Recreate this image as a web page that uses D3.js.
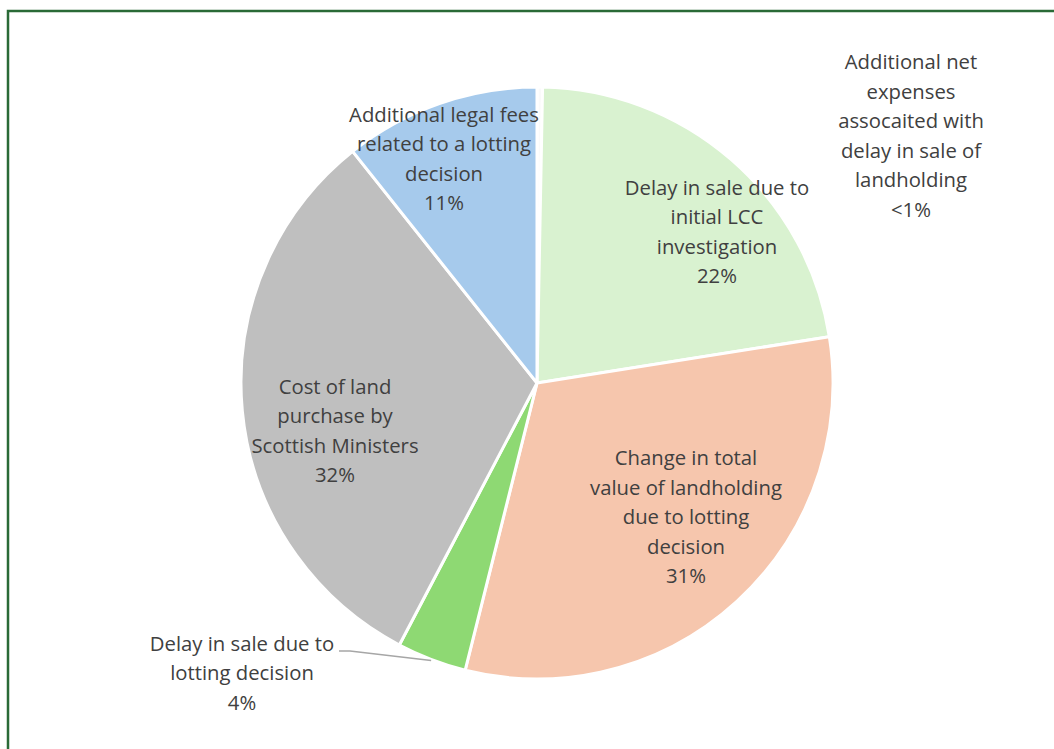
<!DOCTYPE html>
<html>
<head>
<meta charset="utf-8">
<script src="https://cdn.jsdelivr.net/npm/d3@7"></script>
<style>
  html, body { margin: 0; padding: 0; background: #ffffff; }
  svg { display: block; }
  text { font-family: "Open Sans", Lato, sans-serif; }
</style>
</head>
<body>
<svg id="chart" width="1054" height="749"></svg>
<script>
// Cost components (share of total, %), drawn clockwise from 12 o'clock
const categories = [
  ["Additional net", "expenses", "assocaited with", "delay in sale of", "landholding"],
  ["Delay in sale due to", "initial LCC", "investigation"],
  ["Change in total", "value of landholding", "due to lotting", "decision"],
  ["Delay in sale due to", "lotting decision"],
  ["Cost of land", "purchase by", "Scottish Ministers"],
  ["Additional legal fees", "related to a lotting", "decision"]
];
const shares = [0.3, 22.2, 31.4, 3.8, 31.6, 10.7];
const colors = ["#fafafa", "#d9f2d0", "#f6c6ad", "#8ed973", "#bfbfbf", "#a6caec"];

// Label anchor offsets from the pie centre (px)
const labelOffsets = [[374, -247], [180, -151], [149, 134], [-295, 290], [-202, 48], [-93, -224]];

const svg = d3.select("#chart");
const cx = 537, cy = 383, radius = 296;
const lineHeight = 29.5;

// Chart frame
svg.append("path")
  .attr("d", "M8,760 V11 H1060")
  .attr("fill", "none")
  .attr("stroke", "#2a6a37")
  .attr("stroke-width", 2.5);

const data = shares.map((v, i) => ({ value: v, lines: categories[i], color: colors[i], offset: labelOffsets[i] }));

const pie = d3.pie().sort(null).value(d => d.value).startAngle(0).endAngle(2 * Math.PI);
const arcs = pie(data);
const arc = d3.arc().innerRadius(0).outerRadius(radius);

const g = svg.append("g").attr("transform", `translate(${cx},${cy})`);

g.selectAll("path.slice")
  .data(arcs)
  .join("path")
  .attr("class", "slice")
  .attr("d", arc)
  .attr("fill", d => d.data.color)
  .attr("stroke", "#ffffff")
  .attr("stroke-width", 3)
  .attr("stroke-linejoin", "round");

const pctText = v => v < 1 ? "<1%" : Math.round(v) + "%";

// Leader line for the narrow "lotting decision" slice
const small = arcs[3];
const midA = (small.startAngle + small.endAngle) / 2;
const tip = [Math.sin(midA) * (radius + 1), -Math.cos(midA) * (radius + 1)];
const lab = small.data.offset;
const elbowY = lab[1] - 22;
g.append("path")
  .attr("d", `M${tip[0]},${tip[1]} L${lab[0] + 108},${elbowY} L${lab[0] + 97},${elbowY}`)
  .attr("fill", "none")
  .attr("stroke", "#a6a6a6")
  .attr("stroke-width", 1.3);

// Data labels
arcs.forEach(a => {
  const lines = a.data.lines.concat([pctText(a.data.value)]);
  const n = lines.length;
  const t = g.append("text")
    .attr("text-anchor", "middle")
    .attr("fill", "#404040")
    .attr("font-size", 20.3);
  lines.forEach((ln, k) => {
    t.append("tspan")
      .attr("x", a.data.offset[0])
      .attr("y", a.data.offset[1] + (k - (n - 1) / 2) * lineHeight)
      .attr("dy", "0.35em")
      .text(ln);
  });
});
</script>
</body>
</html>
